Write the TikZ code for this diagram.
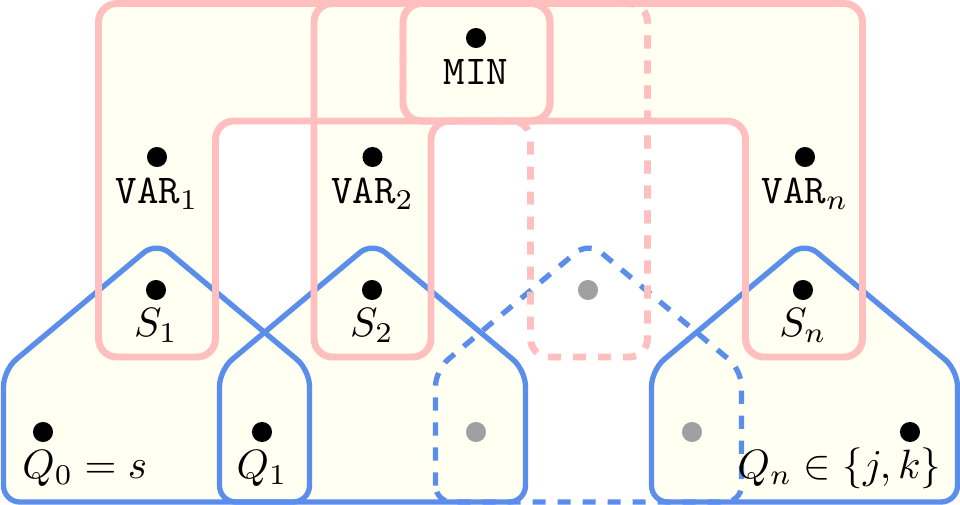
\documentclass[tikz,border=0pt]{standalone}
\usepackage{amsmath,amssymb}
\usepackage{tikz}
\usetikzlibrary{positioning}
\definecolor{edgepink}{HTML}{FFBFBF}
\definecolor{edgeblue}{HTML}{5B8EEB}
\definecolor{cream}{HTML}{FFFFF2}
\definecolor{ghost}{HTML}{A0A0A0}

% hyperedge outlines (pixel-like units)
\newcommand{\hyperOne}{(98.5,3.5) -- (550,3.5) -- (550,121) -- (215.5,121) -- (215.5,357) -- (98.5,357) -- cycle}
\newcommand{\hyperTwo}{(314,3.5) -- (550,3.5) -- (550,121) -- (431,121) -- (431,357) -- (314,357) -- cycle}
\newcommand{\hyperDots}{(403,3.5) -- (647.5,3.5) -- (647.5,357) -- (530.5,357) -- (530.5,121) -- (403,121) -- cycle}
\newcommand{\hyperN}{(403,3.5) -- (862.5,3.5) -- (862.5,357) -- (745.5,357) -- (745.5,121) -- (403,121) -- cycle}

\tikzset{
  dot/.style={circle,fill=black,inner sep=0pt,minimum size=4.9pt},
  ghostdot/.style={dot,fill=ghost},
  lbl/.style={anchor=base,yshift=-11.3pt},
  pinkedge/.style={draw=edgepink,line width=1.7pt,rounded corners=4.5pt},
  blueedge/.style={draw=edgeblue,line width=1.3pt,rounded corners=4pt},
  faint/.style={dash pattern=on 3.2pt off 2.9pt},
}

\begin{document}
\begin{tikzpicture}[x=0.244pt,y=-0.244pt]
  \useasboundingbox (0,0) rectangle (960,505);

  % fills first
  \foreach \cx in {156.5,372.5,804.5}
    \fill[cream,rounded corners=4pt] (\cx-153,502) -- (\cx-153,370) -- (\cx,242)
      -- (\cx+153,370) -- (\cx+153,502) -- cycle;
  \fill[cream,rounded corners=4.5pt] \hyperOne;
  \fill[cream,rounded corners=4.5pt] \hyperTwo;
  \fill[cream,rounded corners=4.5pt] \hyperN;

  % blue hyperedges
  \foreach \cx in {156.5,372.5,804.5}
    \draw[blueedge] (\cx-153,502) -- (\cx-153,370) -- (\cx,242)
      -- (\cx+153,370) -- (\cx+153,502) -- cycle;
  \draw[blueedge,faint] (435.5,502) -- (435.5,370) -- (588.5,242)
    -- (741.5,370) -- (741.5,502) -- cycle;

  % pink hyperedges
  \draw[pinkedge] \hyperOne;
  \draw[pinkedge] \hyperTwo;
  \draw[pinkedge] \hyperN;
  \draw[pinkedge,faint] \hyperDots;

  % vertices
  \node[dot] (min) at (476,38) {};
  \node[dot] (var1) at (157,157) {};
  \node[dot] (var2) at (372.5,157) {};
  \node[dot] (varn) at (805,157) {};
  \node[dot] (s1) at (156,290) {};
  \node[dot] (s2) at (372,290) {};
  \node[ghostdot] (s3) at (588,290) {};
  \node[dot] (sn) at (803,290) {};
  \node[dot] (q0) at (43,432) {};
  \node[dot] (q1) at (262,432) {};
  \node[ghostdot] (q2) at (476,432) {};
  \node[ghostdot] (q3) at (692,432) {};
  \node[dot] (qn) at (910,432) {};

  % labels
  \node[lbl] (minlbl) at (min) {\texttt{MIN}};
  \node[lbl] (var1lbl) at (var1) {$\texttt{VAR}_1$};
  \node[lbl] (var2lbl) at (var2) {$\texttt{VAR}_2$};
  \node[lbl] (varnlbl) at (varn) {$\texttt{VAR}_n$};
  \node[lbl] (s1lbl) at (s1) {$S_1$};
  \node[lbl] (s2lbl) at (s2) {$S_2$};
  \node[lbl] (snlbl) at (sn) {$S_n$};
  \node[lbl,xshift=10.2pt] (q0lbl) at (q0) {$Q_0 = s$};
  \node[lbl] (q1lbl) at (q1) {$Q_1$};
  \node[lbl,xshift=-17.2pt] (qnlbl) at (qn) {$Q_n \in \{j,k\}$};
\end{tikzpicture}
\end{document}
